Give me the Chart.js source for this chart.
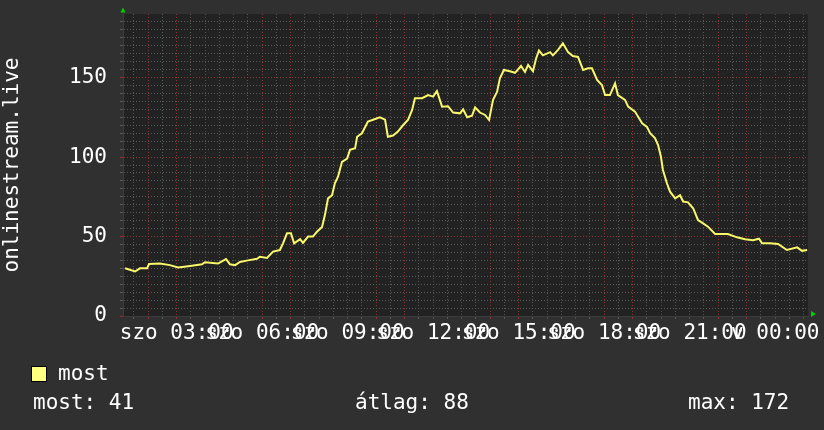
<!DOCTYPE html>
<html>
<head>
<meta charset="utf-8">
<script src="https://cdn.jsdelivr.net/npm/chart.js@4/dist/chart.umd.min.js"></script>
<style>
    body { margin: 0; background: #303030; }
    #wrap { position: relative; width: 824px; height: 430px; }
    canvas { position: absolute; left: 0; top: 0; }
    .txt {
        position: absolute;
        font-family: 'DejaVu Sans Mono', monospace;
        font-size: 21px;
        line-height: 24px;
        color: #ffffff;
        white-space: pre;
    }
    #box {
        position: absolute; left: 31px; top: 366px;
        width: 14px; height: 14px;
        background: #ffff80; border: 1px solid #000;
    }
</style>
</head>
<body>
<div id="wrap">
    <canvas id="streamChart" width="824" height="430"></canvas>
    <div id="box"></div>
    <div class="txt" id="legendName" style="left:58px; top:361px;"></div>
    <div class="txt" id="statNow" style="left:33px; top:390px;"></div>
    <div class="txt" id="statAvg" style="left:355px; top:390px;"></div>
    <div class="txt" id="statMax" style="left:688px; top:390px;"></div>
</div>
<script>
// Heures depuis minuit (samedi)
const hours = [
    1.19, 1.54, 1.71, 1.96, 2.03, 2.41, 2.76, 3.05, 3.47, 3.89,
    3.99, 4.45, 4.73, 4.87, 5.05, 5.22, 5.50, 5.82, 5.92, 6.17,
    6.38, 6.62, 6.73, 6.87, 7.01, 7.12, 7.33, 7.43, 7.61, 7.78,
    7.92, 8.10, 8.20, 8.31, 8.45, 8.55, 8.66, 8.80, 8.98, 9.08,
    9.26, 9.33, 9.50, 9.71, 9.89, 10.13, 10.31, 10.41, 10.59, 10.76,
    10.94, 11.12, 11.26, 11.36, 11.61, 11.82, 12.00, 12.13, 12.31, 12.52,
    12.70, 12.94, 13.05, 13.19, 13.36, 13.47, 13.64, 13.82, 13.96, 14.10,
    14.24, 14.34, 14.48, 14.69, 14.87, 15.08, 15.22, 15.33, 15.50, 15.61,
    15.71, 15.85, 16.10, 16.20, 16.38, 16.55, 16.73, 16.90, 17.08, 17.26,
    17.43, 17.57, 17.75, 17.92, 18.03, 18.20, 18.38, 18.48, 18.73, 18.84,
    19.08, 19.33, 19.50, 19.61, 19.78, 19.89, 19.99, 20.06, 20.20, 20.31,
    20.49, 20.66, 20.77, 20.94, 21.12, 21.29, 21.47, 21.64, 21.89, 22.13,
    22.34, 22.66, 22.94, 23.22, 23.43, 23.54, 23.82, 24.10, 24.41, 24.77,
    24.94, 25.12
];

// Nombre de spectateurs
const viewers = [
    30, 28, 30, 30, 32.7, 33, 32, 30.5, 31.5, 32.5,
    33.8, 33, 35.8, 32.5, 32, 34, 35, 36, 37.3, 36.5,
    40.5, 41.5, 45.7, 52, 52, 45.7, 48.3, 46, 50, 50,
    53, 56, 63.5, 74, 76, 83.5, 87.6, 97, 99, 104.5,
    105.5, 112.8, 115, 122.3, 123.5, 125, 123.5, 112.8, 113.5, 116,
    120, 123.5, 129.6, 137, 137, 139, 138, 141.6, 131.7, 132,
    128, 127.5, 130, 125, 126, 131.3, 128, 126.5, 123.3, 136,
    141, 149.5, 154.8, 154, 153, 157.3, 153.5, 158, 154, 162,
    167, 164, 166, 164, 167.4, 171.6, 166, 163.6, 163, 154.8,
    155.8, 155.8, 148.5, 145.3, 139, 139, 146.4, 139, 136, 131.7,
    128.6, 121.3, 119, 115, 112, 107.6, 100.2, 91.9, 83.5, 78.2,
    74, 76, 72, 71.5, 67.8, 60.4, 58.3, 56.2, 51.6, 51.6,
    51.6, 49.5, 48.3, 47.6, 48.6, 45.7, 45.7, 45.3, 41.5, 43.2,
    41, 41.5
];

// Etiquettes de l'axe X
const xTickHours = [3, 6, 9, 12, 15, 18, 21, 24];
const xTickLabels = ['szo 03:00', 'szo 06:00', 'szo 09:00', 'szo 12:00',
                     'szo 15:00', 'szo 18:00', 'szo 21:00', 'v 00:00'];
const yTickLabels = [0, 50, 100, 150];

const seriesName = 'most';
const stats = { now: 41, avg: 88, max: 172 };
const axisTitle = 'onlinestream.live';

document.getElementById('legendName').textContent = seriesName;
document.getElementById('statNow').textContent = 'most: ' + stats.now;
document.getElementById('statAvg').textContent = 'átlag: ' + stats.avg;
document.getElementById('statMax').textContent = 'max: ' + stats.max;

const monoFont = { family: "'DejaVu Sans Mono', monospace", size: 21 };
const minorColor = '#575757';
const majorColor = '#8a3434';

// Fond de la zone de tracé et flèches vertes
const rrdDecor = {
    id: 'rrdDecor',
    beforeDraw(chart) {
        const { ctx, chartArea: a } = chart;
        ctx.save();
        ctx.fillStyle = '#303030';
        ctx.fillRect(0, 0, chart.width, chart.height);
        ctx.fillStyle = '#222222';
        ctx.fillRect(a.left, a.top, a.right - a.left, a.bottom - a.top);
        ctx.restore();
    },
    afterDraw(chart) {
        const { ctx, chartArea: a } = chart;
        ctx.save();
        ctx.fillStyle = '#00d000';
        ctx.beginPath();
        ctx.moveTo(a.left - 2.5, a.top - 1.5);
        ctx.lineTo(a.left + 2.5, a.top - 1.5);
        ctx.lineTo(a.left, a.top - 6.5);
        ctx.closePath();
        ctx.fill();
        ctx.beginPath();
        ctx.moveTo(a.right + 3, a.bottom - 5);
        ctx.lineTo(a.right + 3, a.bottom + 1);
        ctx.lineTo(a.right + 8, a.bottom - 2);
        ctx.closePath();
        ctx.fill();
        ctx.restore();
    }
};

new Chart(document.getElementById('streamChart'), {
    type: 'line',
    data: {
        datasets: [{
            label: seriesName,
            data: hours.map((h, i) => ({ x: h, y: viewers[i] })),
            borderColor: '#f8f86a',
            borderWidth: 2,
            pointRadius: 0,
            tension: 0,
            fill: false
        }]
    },
    options: {
        responsive: false,
        animation: false,
        layout: { padding: { top: 14, right: 16, left: 0, bottom: 0 } },
        plugins: {
            legend: { display: false },
            tooltip: { enabled: false }
        },
        scales: {
            x: {
                type: 'linear',
                min: 1.116,
                max: 25.15,
                afterBuildTicks: function(scale) {
                    const ticks = [];
                    for (let h = 1.5; h <= 25; h += 0.5) ticks.push({ value: h });
                    scale.ticks = ticks;
                },
                afterFit: function(scale) {
                    scale.height = 114;
                    scale.paddingLeft = 0;
                    scale.paddingRight = 0;
                },
                grid: {
                    color: ctx => (ctx.tick && Number.isInteger(ctx.tick.value)) ? majorColor : minorColor,
                    tickLength: 3,
                    drawTicks: true
                },
                border: { color: '#3c3c3c', dash: [1, 2] },
                ticks: {
                    autoSkip: false,
                    maxRotation: 0,
                    minRotation: 0,
                    padding: 2,
                    color: '#ffffff',
                    font: monoFont,
                    callback: function(value) {
                        const i = xTickHours.indexOf(value);
                        return i >= 0 ? xTickLabels[i] : '';
                    }
                }
            },
            y: {
                min: 0,
                max: 190,
                afterBuildTicks: function(scale) {
                    const ticks = [];
                    for (let v = 0; v <= 185; v += 5) ticks.push({ value: v });
                    scale.ticks = ticks;
                },
                afterFit: function(scale) {
                    scale.width = 123;
                    scale.paddingTop = 0;
                    scale.paddingBottom = 0;
                },
                grid: {
                    color: ctx => (ctx.tick && ctx.tick.value % 50 === 0) ? majorColor : minorColor,
                    tickLength: 3
                },
                border: { color: '#3c3c3c', dash: [1, 2] },
                title: {
                    display: true,
                    text: axisTitle,
                    color: '#ffffff',
                    font: monoFont,
                    padding: 0
                },
                ticks: {
                    autoSkip: false,
                    padding: 13,
                    color: '#ffffff',
                    font: monoFont,
                    callback: value => yTickLabels.includes(value) ? String(value) : ''
                }
            }
        }
    },
    plugins: [rrdDecor]
});
</script>
</body>
</html>
